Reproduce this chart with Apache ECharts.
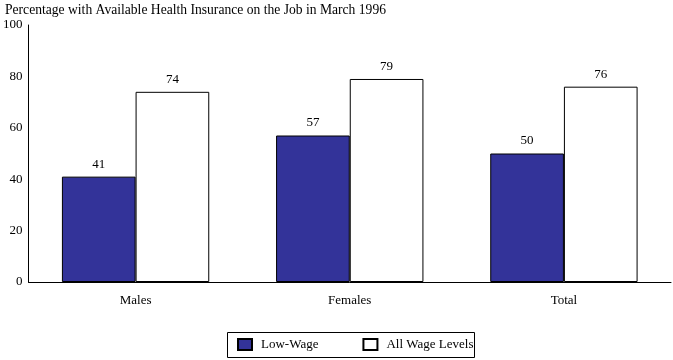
<!DOCTYPE html>
<html><head><meta charset="utf-8">
<script src="https://cdn.jsdelivr.net/npm/echarts@6/dist/echarts.min.js"></script>
<style>html,body{margin:0;padding:0;background:#fff}#c{width:673px;height:360px}</style>
</head><body><div id="c"></div>
<script>
const categories = ["Males", "Females", "Total"];
const lowWage = [41, 57, 50];
const allWage = [74, 79, 76];
const seriesNames = ["Low-Wage", "All Wage Levels"];
const titleText = "Percentage with Available Health Insurance on the Job in March 1996";
const F = "'Liberation Serif', 'Times New Roman', serif";
const chart = echarts.init(document.getElementById('c'), null, {renderer: 'canvas'});
chart.setOption({
  animation: false,
  backgroundColor: '#fff',
  title: {text: titleText, left: 5, top: 3, padding: 0, textStyle: {fontFamily: F, fontSize: 13.6, fontWeight: 'normal', color: '#000'}},
  grid: {left: 27, right: 2, top: 25, bottom: 78, containLabel: false},
  legend: {
    data: seriesNames, left: 237, top: 338, itemWidth: 14, itemHeight: 11, itemGap: 44,
    textStyle: {fontFamily: F, fontSize: 13, color: '#000', padding: [0, 0, 0, 4]}, padding: 0,
    icon: 'rect'
  },
  graphic: [{type: 'rect', shape: {x: 227.5, y: 332.5, width: 247, height: 25}, style: {fill: 'none', stroke: '#000', lineWidth: 1}, z: 10}],
  xAxis: {
    type: 'category', data: categories,
    axisLine: {lineStyle: {color: '#000', width: 1}}, axisTick: {show: false},
    axisLabel: {fontFamily: F, fontSize: 13, color: '#000', margin: 12}
  },
  yAxis: {
    type: 'value', min: 0, max: 100, interval: 20,
    axisLine: {show: true, lineStyle: {color: '#000', width: 1}}, axisTick: {show: false},
    splitLine: {show: false},
    axisLabel: {fontFamily: F, fontSize: 13, color: '#000', margin: 6}
  },
  series: [
    {name: seriesNames[0], type: 'bar', data: lowWage, barWidth: '34.4%', barGap: '0%',
     itemStyle: {color: '#333399', borderColor: '#000', borderWidth: 1},
     label: {show: true, position: 'top', distance: 6, fontFamily: F, fontSize: 13, color: '#000'}},
    {name: seriesNames[1], type: 'bar', data: allWage, barWidth: '34.4%', barGap: '0%',
     itemStyle: {color: '#fff', borderColor: '#000', borderWidth: 1},
     label: {show: true, position: 'top', distance: 6, fontFamily: F, fontSize: 13, color: '#000'}}
  ]
});
</script></body></html>
